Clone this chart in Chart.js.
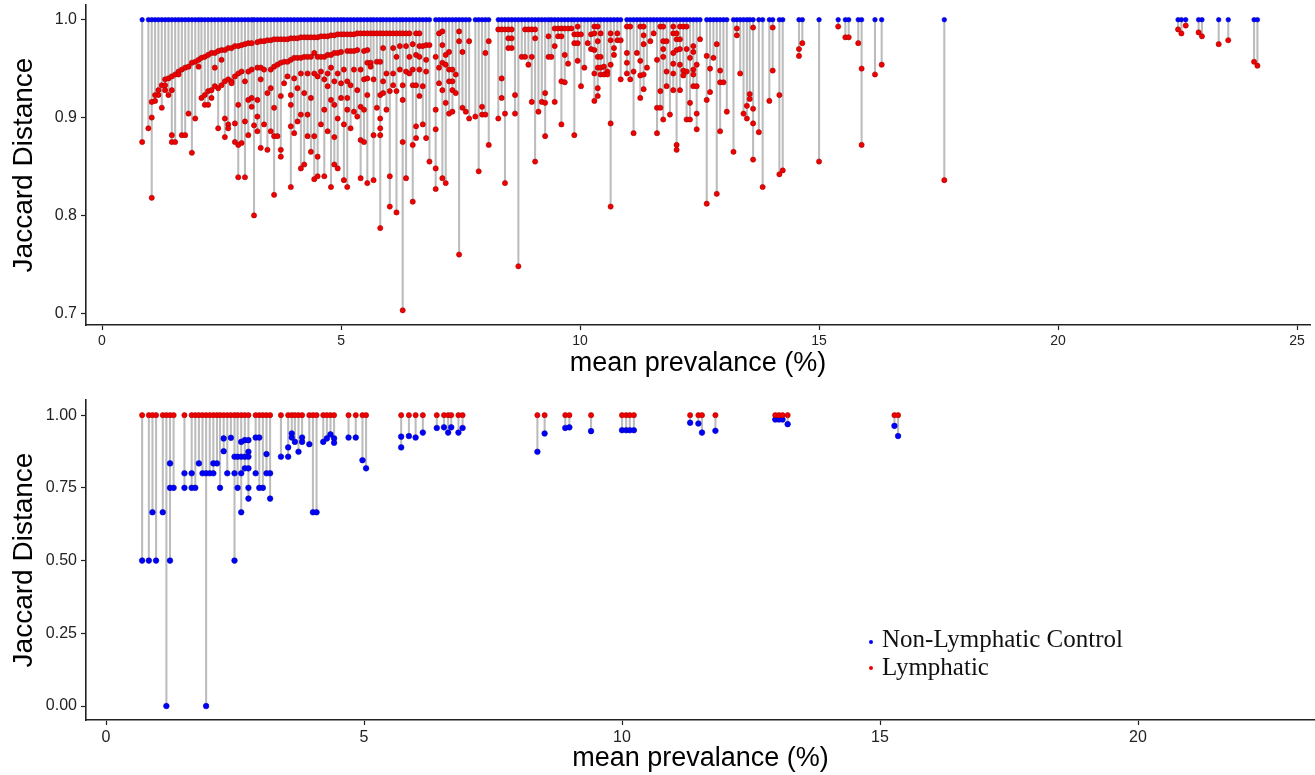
<!DOCTYPE html>
<html>
<head>
<meta charset="utf-8">
<script src="https://cdn.jsdelivr.net/npm/chart.js@4.4.1/dist/chart.umd.min.js"></script>
<style>
  html, body { margin: 0; padding: 0; background: #fff; }
  #wrap { position: relative; width: 1315px; height: 775px; overflow: hidden; }
  #topBox { position: absolute; left: 0; top: -9px; }
  #botBox { position: absolute; left: 0; top: 380px; }
</style>
</head>
<body>
<div id="wrap">
  <div id="topBox"><canvas id="topChart" width="1315" height="389"></canvas></div>
  <div id="botBox"><canvas id="botChart" width="1315" height="395"></canvas></div>
</div>
<script>
// ---- data: top panel (blue control at 1.0, red lymphatic values per stem) ----
const topPrev = [
  0.84, 0.97, 1.04, 1.11, 1.18, 1.25, 1.32, 1.39, 1.46, 1.53,
  1.60, 1.67, 1.74, 1.81, 1.88, 1.95, 2.02, 2.08, 2.15, 2.22,
  2.29, 2.36, 2.43, 2.50, 2.57, 2.64, 2.71, 2.78, 2.85, 2.92,
  2.99, 3.06, 3.13, 3.18, 3.25, 3.32, 3.39, 3.46, 3.53, 3.60,
  3.67, 3.74, 3.81, 3.88, 3.95, 4.02, 4.09, 4.16, 4.23, 4.30,
  4.37, 4.44, 4.51, 4.58, 4.65, 4.72, 4.79, 4.86, 4.93, 5.00,
  5.06, 5.13, 5.20, 5.27, 5.34, 5.41, 5.48, 5.55, 5.62, 5.68,
  5.75, 5.82, 5.88, 5.95, 6.02, 6.09, 6.16, 6.23, 6.29, 6.36,
  6.43, 6.50, 6.57, 6.64, 6.71, 6.78, 6.85, 6.98, 7.05, 7.12,
  7.19, 7.26, 7.33, 7.40, 7.47, 7.54, 7.61, 7.68, 7.81, 7.88,
  7.95, 8.02, 8.09, 8.29, 8.36, 8.43, 8.50, 8.57, 8.64, 8.71,
  8.78, 8.85, 8.92, 8.99, 9.06, 9.13, 9.20, 9.27, 9.34, 9.40,
  9.47, 9.54, 9.61, 9.68, 9.75, 9.82, 9.88, 9.95, 10.02, 10.09,
  10.16, 10.23, 10.30, 10.37, 10.43, 10.50, 10.57, 10.64, 10.71, 10.78,
  10.85, 10.98, 11.05, 11.12, 11.19, 11.26, 11.33, 11.40, 11.47, 11.54,
  11.61, 11.68, 11.74, 11.81, 11.88, 11.95, 12.02, 12.09, 12.16, 12.23,
  12.30, 12.37, 12.44, 12.51, 12.65, 12.72, 12.79, 12.86, 12.93, 13.00,
  13.07, 13.21, 13.28, 13.35, 13.42, 13.49, 13.55, 13.62, 13.74, 13.82,
  13.96, 14.03, 14.17, 14.24, 14.58, 14.65, 15.00, 15.40, 15.55, 15.62,
  15.82, 15.89, 16.17, 16.31, 17.62, 22.51, 22.58, 22.67, 22.94, 23.01,
  23.36, 23.56, 24.10, 24.17
];
const topLymph = [
  [0.875], [0.889], [0.916, 0.900, 0.818], [0.923, 0.917], [0.928, 0.923],
  [0.933, 0.910], [0.939, 0.933, 0.928], [0.940, 0.923], [0.942, 0.928, 0.882, 0.875], [0.944, 0.875],
  [0.947, 0.944], [0.949, 0.882], [0.951, 0.882], [0.952, 0.904], [0.956, 0.864],
  [0.957, 0.899], [0.959, 0.952], [0.961, 0.920], [0.962, 0.923, 0.913], [0.964, 0.927, 0.913],
  [0.966, 0.928, 0.920], [0.966, 0.951, 0.932], [0.968, 0.930, 0.889], [0.969, 0.959, 0.933], [0.969, 0.937, 0.899, 0.880],
  [0.971, 0.939, 0.893, 0.889], [0.971, 0.937, 0.935], [0.973, 0.942, 0.894, 0.875], [0.973, 0.945, 0.913, 0.872, 0.839], [0.974, 0.947, 0.874],
  [0.975, 0.937, 0.896, 0.839], [0.976, 0.947, 0.918, 0.882], [0.976, 0.949, 0.920, 0.911], [0.892, 0.800], [0.977, 0.951, 0.918, 0.901, 0.886],
  [0.978, 0.951, 0.939, 0.869], [0.978, 0.949, 0.893], [0.979, 0.925, 0.867], [0.979, 0.949, 0.930, 0.886], [0.980, 0.952, 0.910, 0.881, 0.821],
  [0.980, 0.954, 0.881], [0.980, 0.956, 0.922, 0.867, 0.860], [0.980, 0.957, 0.935], [0.980, 0.957, 0.942], [0.981, 0.959, 0.923, 0.913, 0.891, 0.829],
  [0.981, 0.961, 0.940, 0.884], [0.981, 0.961, 0.930, 0.896], [0.982, 0.961, 0.945, 0.903, 0.848], [0.982, 0.962, 0.925, 0.852], [0.982, 0.962, 0.945, 0.903, 0.881],
  [0.982, 0.962, 0.920, 0.865], [0.982, 0.966, 0.945, 0.881, 0.837], [0.982, 0.962, 0.942, 0.860, 0.840], [0.983, 0.962, 0.947, 0.893], [0.983, 0.962, 0.939, 0.908, 0.840],
  [0.983, 0.964, 0.945, 0.932, 0.886], [0.984, 0.964, 0.951, 0.918, 0.829], [0.984, 0.966, 0.937, 0.913, 0.880, 0.852], [0.985, 0.966, 0.945, 0.899, 0.848], [0.985, 0.967, 0.935, 0.920],
  [0.985, 0.949, 0.893, 0.836], [0.985, 0.968, 0.937, 0.920, 0.908, 0.829], [0.985, 0.968, 0.933, 0.889], [0.985, 0.968, 0.949, 0.906], [0.986, 0.969, 0.928, 0.901],
  [0.986, 0.949, 0.911, 0.877, 0.838], [0.986, 0.968, 0.939, 0.908, 0.875], [0.986, 0.969, 0.956, 0.940, 0.923, 0.833], [0.986, 0.956, 0.952], [0.986, 0.939, 0.882, 0.836],
  [0.986, 0.957, 0.910], [0.986, 0.957, 0.923, 0.899, 0.889, 0.882, 0.787], [0.986, 0.971, 0.937, 0.925], [0.986, 0.945, 0.908], [0.986, 0.927, 0.840, 0.809],
  [0.986, 0.971, 0.945, 0.933], [0.986, 0.962, 0.927, 0.803], [0.986, 0.973, 0.949], [0.986, 0.933, 0.918, 0.875, 0.703], [0.986, 0.973, 0.947, 0.838],
  [0.986, 0.962, 0.945], [0.975, 0.949, 0.933, 0.872, 0.814], [0.986, 0.964, 0.933, 0.891, 0.879], [0.986, 0.973, 0.962, 0.949, 0.922], [0.973, 0.932, 0.893],
  [0.974, 0.959, 0.947, 0.879], [0.974, 0.855], [0.962, 0.908, 0.888, 0.848, 0.827], [0.986, 0.951, 0.935], [0.988, 0.974, 0.956, 0.928, 0.838],
  [0.964, 0.954, 0.915, 0.833], [0.967, 0.949, 0.937, 0.904], [0.949, 0.937, 0.928, 0.906], [0.944, 0.925], [0.988, 0.978, 0.760],
  [0.967, 0.910], [0.906], [0.978, 0.899], [0.901], [0.845],
  [0.911, 0.903], [0.966, 0.903], [0.978, 0.872], [0.990, 0.899], [0.990, 0.940, 0.920],
  [0.990, 0.904, 0.833], [0.990, 0.981, 0.971], [0.990, 0.981, 0.971], [0.923, 0.904], [0.748],
  [0.962], [0.990, 0.962], [0.990, 0.954], [0.990, 0.962, 0.916], [0.990, 0.981, 0.855],
  [0.906], [0.916], [0.925, 0.915, 0.881], [0.983, 0.962], [0.962],
  [0.991, 0.973, 0.916], [0.991, 0.983], [0.991, 0.983, 0.937, 0.893], [0.991, 0.964, 0.936], [0.991, 0.955],
  [0.991], [0.985, 0.976, 0.882], [0.993, 0.985, 0.976, 0.958], [0.985, 0.932], [0.951],
  [0.976], [0.985, 0.970], [0.993, 0.986, 0.969, 0.945, 0.917], [0.993, 0.978, 0.962, 0.951, 0.930, 0.922], [0.986, 0.962, 0.951, 0.944],
  [0.952, 0.944], [0.947, 0.944], [0.986, 0.979, 0.954, 0.894, 0.809], [0.971, 0.964], [0.986, 0.979],
  [0.979, 0.939], [0.993, 0.966, 0.956, 0.945], [0.993, 0.939], [0.947, 0.884], [0.966],
  [0.993, 0.958, 0.943, 0.920], [0.993, 0.984, 0.975, 0.944, 0.929], [0.951], [0.978], [0.986],
  [0.959, 0.910, 0.884], [0.993, 0.927, 0.910], [0.993, 0.978, 0.970, 0.962, 0.898], [0.978, 0.947, 0.932], [0.903],
  [0.993, 0.986, 0.966, 0.955, 0.945, 0.928], [0.986, 0.980, 0.969, 0.872, 0.867], [0.993, 0.980, 0.970, 0.954, 0.928], [0.993, 0.948, 0.943], [0.993, 0.970, 0.947, 0.898],
  [0.961, 0.915, 0.898], [0.973, 0.967, 0.949, 0.944, 0.932], [0.954, 0.932, 0.904, 0.888], [0.980], [0.963, 0.918, 0.812],
  [0.950, 0.926], [0.961], [0.975, 0.822], [0.948, 0.936, 0.886], [0.936],
  [0.906], [0.865], [0.991, 0.984], [0.945], [0.904],
  [0.912, 0.899], [0.924, 0.919], [0.992, 0.909, 0.894, 0.857], [0.885], [0.829],
  [0.917], [0.992, 0.948], [0.923, 0.842], [0.846], [0.970, 0.963],
  [0.976], [0.855], [0.993], [0.982], [0.982],
  [0.976], [0.950, 0.872], [0.944], [0.954], [0.836],
  [0.990], [0.986], [0.994], [0.987], [0.983],
  [0.975], [0.979], [0.957], [0.953]
];

// ---- data: bottom panel (red lymphatic at 1.0, blue control values per stem) ----
const botPrev = [
  0.70, 0.83, 0.90, 0.97, 1.10, 1.17, 1.24, 1.31, 1.52, 1.66,
  1.73, 1.80, 1.87, 1.94, 2.01, 2.08, 2.15, 2.21, 2.28, 2.35,
  2.42, 2.49, 2.55, 2.62, 2.69, 2.76, 2.90, 2.97, 3.04, 3.11,
  3.18, 3.39, 3.53, 3.60, 3.66, 3.73, 3.80, 3.94, 4.01, 4.08,
  4.21, 4.28, 4.35, 4.42, 4.70, 4.84, 4.97, 5.04, 5.72, 5.87,
  6.00, 6.14, 6.41, 6.55, 6.63, 6.69, 6.83, 6.91, 8.36, 8.50,
  8.90, 8.98, 9.40, 10.00, 10.08, 10.15, 10.23, 11.32, 11.48, 11.55,
  11.81, 12.97, 13.04, 13.11, 13.21, 15.28, 15.35
];
const botCtrl = [
  [0.50], [0.50], [0.666], [0.50], [0.666], [0.0], [0.834, 0.75, 0.50], [0.75], [0.80, 0.75], [0.80, 0.75],
  [0.75], [0.834], [0.80], [0.80, 0.0], [0.80], [0.834, 0.80], [0.834], [0.75], [0.92, 0.876], [0.80],
  [0.922], [0.857, 0.80, 0.50], [0.857, 0.75], [0.908, 0.857, 0.80, 0.666], [0.914, 0.857, 0.817], [0.914, 0.874, 0.857, 0.817, 0.75, 0.713], [0.923, 0.80], [0.923, 0.75], [0.75], [0.866, 0.80],
  [0.80, 0.713], [0.857], [0.889, 0.857], [0.937, 0.923], [0.908], [0.874], [0.923, 0.908], [0.900], [0.666], [0.666],
  [0.908], [0.920], [0.934], [0.920, 0.905], [0.923], [0.923], [0.845], [0.817], [0.926, 0.889], [0.928],
  [0.923], [0.940], [0.956], [0.958], [0.940], [0.958], [0.940], [0.956], [0.874], [0.937],
  [0.956], [0.958], [0.945], [0.948], [0.948], [0.948], [0.948], [0.974], [0.971], [0.940],
  [0.946], [0.985], [0.985], [0.985], [0.969], [0.963], [0.928]
];

const topYTicks = [0.7, 0.8, 0.9, 1.0];
const botYTicks = [0, 0.25, 0.5, 0.75, 1.0];
const topXTicks = [0, 5, 10, 15, 20, 25];
const botXTicks = [0, 5, 10, 15, 20];
const legendLabels = ['Non-Lymphatic Control', 'Lymphatic'];

const sansFont = "'Liberation Sans', Arial, Helvetica, sans-serif";
const serifFont = "'Liberation Serif', 'Times New Roman', serif";
const BLUE = '#0000ff';
const RED = '#f00000';
const STEM = '#bcbcbc';
const legendColors = [BLUE, RED];

// small legend drawn inside the lower panel, bottom right
const cornerLegend = {
  id: 'cornerLegend',
  afterDraw(chart, args, o) {
    if (!o.show) return;
    const ctx = chart.ctx;
    const left = chart.chartArea.left + 796;
    const base = chart.chartArea.top + 247;
    ctx.save();
    ctx.font = '25px ' + serifFont;
    ctx.textBaseline = 'alphabetic';
    legendLabels.forEach((txt, i) => {
      const y = base + i * 28;
      ctx.fillStyle = legendColors[i];
      ctx.beginPath();
      ctx.arc(left - 11, y - 5 - i * 2, 2, 0, Math.PI * 2);
      ctx.fill();
      ctx.fillStyle = '#111';
      ctx.fillText(txt, left, y);
    });
    ctx.restore();
  }
};

function stemChart(id, cfg) {
  const stems = cfg.prev.map((x, i) => ({ x: x, y: [Math.min(...cfg.vals[i]), 1] }));
  const basePts = cfg.prev.map(x => ({ x: x, y: 1 }));
  const valPts = [];
  cfg.prev.forEach((x, i) => cfg.vals[i].forEach(v => valPts.push({ x: x, y: v })));

  return new Chart(document.getElementById(id), {
    type: 'scatter',
    data: {
      datasets: [
        { type: 'bar', data: stems, backgroundColor: STEM, borderWidth: 0,
          barThickness: 1.4, grouped: false, order: 3 },
        { label: cfg.valLabel, data: valPts, backgroundColor: cfg.valColor, borderColor: cfg.valEdge,
          borderWidth: 0.6, pointRadius: cfg.valRadius, order: 2 },
        { label: cfg.baseLabel, data: basePts, backgroundColor: cfg.baseColor, borderColor: cfg.baseEdge,
          borderWidth: 0.6, pointRadius: cfg.baseRadius, order: 1 }
      ]
    },
    options: {
      responsive: false,
      animation: false,
      events: [],
      layout: { autoPadding: false, padding: { top: cfg.padTop, right: cfg.padRight, left: 0, bottom: 0 } },
      plugins: { legend: { display: false }, tooltip: { enabled: false }, cornerLegend: { show: cfg.legend } },
      scales: {
        x: {
          type: 'linear', min: cfg.xMin, max: cfg.xMax, offset: false,
          afterBuildTicks: s => { s.ticks = cfg.xTicks.map(v => ({ value: v })); },
          afterFit: s => { s.height = 55; },
          grid: { display: true, offset: false, drawOnChartArea: false, drawTicks: true, tickLength: 5, tickColor: '#222', tickWidth: 1.2 },
          border: { display: true, color: '#222', width: 1.6 },
          ticks: { color: '#222', padding: 3, maxRotation: 0, font: { family: sansFont, size: cfg.xTickSize } },
          title: { display: true, text: 'mean prevalance (%)', color: '#000', padding: { top: 0, bottom: 0 },
                   font: { family: sansFont, size: 27 } }
        },
        y: {
          min: cfg.yMin, max: cfg.yMax,
          afterBuildTicks: s => { s.ticks = cfg.yTicks.map(v => ({ value: v })); },
          afterFit: s => { s.width = 86; },
          grid: { display: true, drawOnChartArea: false, drawTicks: true, tickLength: 5, tickColor: '#222', tickWidth: 1.2 },
          border: { display: true, color: '#222', width: 1.6 },
          ticks: { color: '#222', padding: 4, font: { family: sansFont, size: 16 },
                   callback: v => v.toFixed(cfg.yDec) },
          title: { display: true, text: 'Jaccard Distance', color: '#000', padding: { top: 7, bottom: 0 },
                   font: { family: sansFont, size: 28 } }
        }
      }
    },
    plugins: [cornerLegend]
  });
}

stemChart('topChart', {
  prev: topPrev, vals: topLymph,
  valLabel: 'Lymphatic', valColor: RED, valEdge: '#a80000', valRadius: 2.6,
  baseLabel: 'Non-Lymphatic Control', baseColor: BLUE, baseEdge: '#0000c0', baseRadius: 2.3,
  xMin: -0.335, xMax: 25.27, yMin: 0.688, yMax: 1.015,
  xTicks: topXTicks, yTicks: topYTicks, yDec: 1, xTickSize: 14,
  padTop: 14, padRight: 5, legend: false
});

stemChart('botChart', {
  prev: botPrev, vals: botCtrl,
  valLabel: 'Non-Lymphatic Control', valColor: BLUE, valEdge: '#0000b0', valRadius: 2.8,
  baseLabel: 'Lymphatic', baseColor: RED, baseEdge: '#b00000', baseRadius: 2.6,
  xMin: -0.388, xMax: 23.43, yMin: -0.048, yMax: 1.052,
  xTicks: botXTicks, yTicks: botYTicks, yDec: 2, xTickSize: 16,
  padTop: 20, padRight: 0, legend: true
});
</script>
</body>
</html>
